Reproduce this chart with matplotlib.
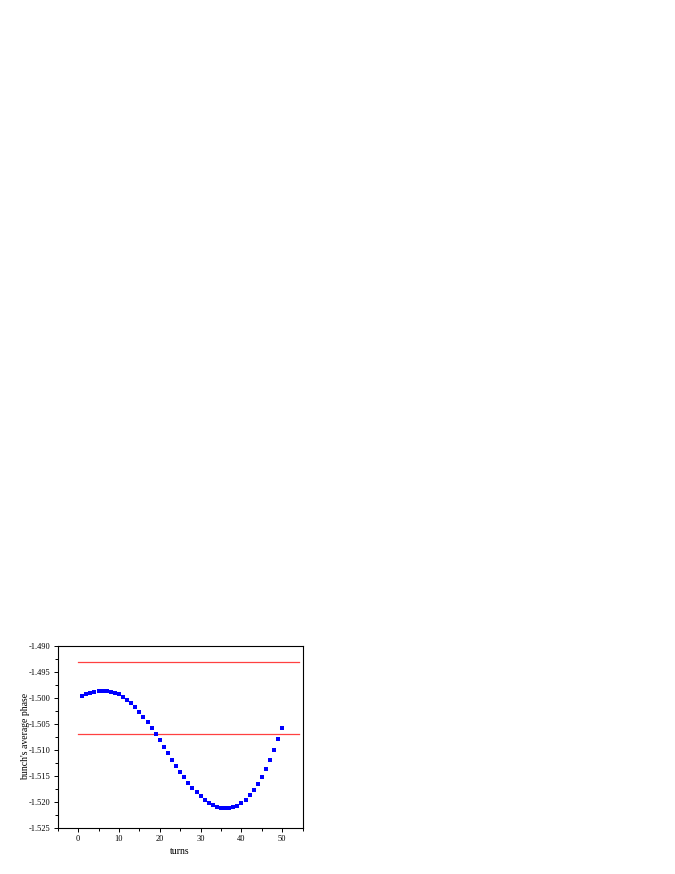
import matplotlib
matplotlib.use('Agg')
from matplotlib import pyplot as plt
from matplotlib.ticker import MultipleLocator, FormatStrFormatter
import numpy as np

matplotlib.rc('font', family='Liberation Serif')

turns = np.arange(1, 51)
phase = [
    -1.49966, -1.49934, -1.49909, -1.49889, -1.49877, -1.49870, -1.49870, -1.49883, -1.49902, -1.49934,
    -1.49980, -1.50037, -1.50100, -1.50177, -1.50267, -1.50369, -1.50472, -1.50587, -1.50702, -1.50817,
    -1.50945, -1.51067, -1.51188, -1.51310, -1.51419, -1.51528, -1.51630, -1.51726, -1.51810, -1.51886,
    -1.51956, -1.52014, -1.52065, -1.52097, -1.52116, -1.52123, -1.52123, -1.52104, -1.52071, -1.52020,
    -1.51956, -1.51873, -1.51777, -1.51656, -1.51515, -1.51361, -1.51188, -1.51000, -1.50798, -1.50580,
]
limits = [-1.4932, -1.5070]
limit_x = [0, 54.2]

fig = plt.figure(figsize=(6.75, 8.74), dpi=100)
ax = fig.add_axes([57.7 / 675, 1 - 828 / 874, (302.7 - 57.7) / 675, (828 - 645.7) / 874])

for lim in limits:
    ax.plot(limit_x, [lim, lim], color='#ff4040', lw=0.9)
ax.plot(turns, phase, 's', color='#0000ff', markersize=2.8, markeredgewidth=0)

ax.set_xlim(-5, 55)
ax.set_ylim(-1.525, -1.490)
ax.xaxis.set_major_locator(MultipleLocator(10))
ax.xaxis.set_minor_locator(MultipleLocator(5))
ax.yaxis.set_major_locator(MultipleLocator(0.005))
ax.yaxis.set_minor_locator(MultipleLocator(0.0025))
ax.yaxis.set_major_formatter(FormatStrFormatter('%.3f'))
ax.tick_params(which='both', direction='out', labelsize=6, width=0.7)
ax.tick_params(which='major', length=3, pad=2)
ax.tick_params(which='minor', length=2)
for s in ax.spines.values():
    s.set_linewidth(0.8)

ax.set_xlabel('turns', fontsize=7, labelpad=3)
ax.set_ylabel("bunch's average phase", fontsize=7, labelpad=-1)

plt.savefig('out.png', dpi=100)
